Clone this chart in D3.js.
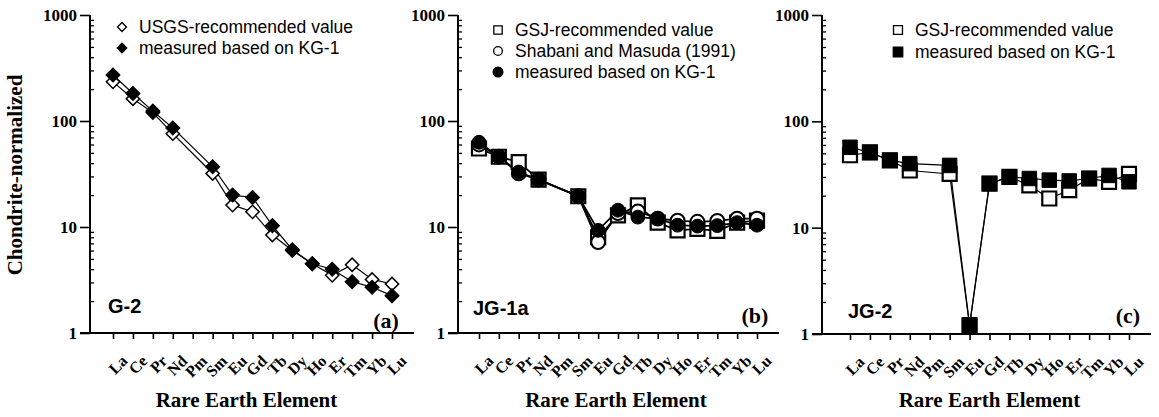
<!DOCTYPE html>
<html>
<head>
<meta charset="utf-8">
<script src="https://cdn.jsdelivr.net/npm/d3@7"></script>
<style>
  body { margin: 0; background: #fff; }
  svg { display: block; }
  .serif { font-family: "Liberation Serif", "Times New Roman", serif; font-weight: bold; }
  .sans { font-family: "Liberation Sans", Arial, sans-serif; }
</style>
</head>
<body>
<svg id="chart" width="1159" height="417"></svg>
<script>
//Rare earth elements on the x axis, Pm has no values
var elements = ["La", "Ce", "Pr", "Nd", "Pm", "Sm", "Eu", "Gd", "Tb", "Dy", "Ho", "Er", "Tm", "Yb", "Lu"];
var yTicks = [1, 10, 100, 1000];

//(a) G-2
var g2Usgs =     [234, 162, 120, 76, null, 32, 16.1, 13.9, 8.4, 6.0, 4.5, 3.5, 4.4, 3.2, 2.9];
var g2Measured = [272, 182, 124, 86, null, 37, 20, 19, 10.3, 6.1, 4.5, 4.0, 3.05, 2.7, 2.25];

//(b) JG-1a
var jg1aGsj =      [55, 46, 41, 28, null, 19.5, 8.0, 12.9, 16, 11, 9.3, 9.6, 9.2, 11, 11.5];
var jg1aShabani =  [60, 46, 32, 28, null, 19.5, 7.2, 13.5, 14, 12, 11.5, 11.2, 11.4, 12, 12];
var jg1aMeasured = [63, 46, 33, 28, null, 19.5, 9.3, 14.4, 12.4, 12, 10.4, 10.2, 10.3, 11, 10.4];

//(c) JG-2
var jg2Gsj =      [48, 51, 43, 34.5, null, 32, 1.2, 26, 30, 25, 18.8, 22.5, 29, 27, 32];
var jg2Measured = [57, 51, 43, 40, null, 38.5, 1.22, 26, 30, 29, 28, 27.5, 29, 31, 27];

var svg = d3.select("#chart");

//Marker styles
var markers = {
    openDiamond:   { type: d3.symbolSquare, size: 88, rotate: 45, fill: "#fff", stroke: 1.5 },
    filledDiamond: { type: d3.symbolSquare, size: 100, rotate: 45, fill: "#000", stroke: 1 },
    openSquare:    { type: d3.symbolSquare, size: 196, rotate: 0, fill: "#fff", stroke: 2.2 },
    filledSquare:  { type: d3.symbolSquare, size: 210, rotate: 0, fill: "#000", stroke: 1 },
    openCircle:    { type: d3.symbolCircle, size: 150, rotate: 0, fill: "#fff", stroke: 2 },
    filledCircle:  { type: d3.symbolCircle, size: 150, rotate: 0, fill: "#000", stroke: 1 }
};

var panels = [
    {
        yAxisX: 90, first: 113, last: 392, top: 15, bottom: 333,
        name: "G-2", nameX: 108, nameY: 313, tag: "(a)", tagX: 386, tagY: 328,
        legendX: 122, legendY: 27, legendGap: 21, lineWidth: 1.2, titleShift: -6,
        series: [
            { label: "USGS-recommended value", values: g2Usgs, marker: "openDiamond", legendSize: 40 },
            { label: "measured based on KG-1", values: g2Measured, marker: "filledDiamond", legendSize: 45 }
        ]
    },
    {
        yAxisX: 458, first: 479, last: 757, top: 15, bottom: 333,
        name: "JG-1a", nameX: 473, nameY: 315, tag: "(b)", tagX: 755, tagY: 323,
        legendX: 498, legendY: 30, legendGap: 21, lineWidth: 1.8, titleShift: -2,
        series: [
            { label: "GSJ-recommended value", values: jg1aGsj, marker: "openSquare", legendSize: 70 },
            { label: "Shabani and Masuda (1991)", values: jg1aShabani, marker: "openCircle", legendSize: 60 },
            { label: "measured based on KG-1", values: jg1aMeasured, marker: "filledCircle", legendSize: 75 }
        ]
    },
    {
        yAxisX: 822, first: 850, last: 1129, top: 15, bottom: 334,
        name: "JG-2", nameX: 848, nameY: 318, tag: "(c)", tagX: 1128, tagY: 323,
        legendX: 898, legendY: 30, legendGap: 22, lineWidth: 1.2, titleShift: 0,
        series: [
            { label: "GSJ-recommended value", values: jg2Gsj, marker: "openSquare", legendSize: 80 },
            { label: "measured based on KG-1", values: jg2Measured, marker: "filledSquare", legendSize: 90 }
        ]
    }
];

//Minor ticks 2..9 inside each decade
var minorTicks = [];
[1, 10, 100].forEach(function (d) {
    for (var k = 2; k < 10; k++) minorTicks.push(k * d);
});

function symbolPath(m, size) {
    return d3.symbol().type(m.type).size(size || m.size)();
}

panels.forEach(function (p) {
    var g = svg.append("g");

    var x = d3.scalePoint().domain(elements).range([p.first, p.last]);
    var y = d3.scaleLog().domain([1, 1000]).range([p.bottom, p.top]);

    //Y axis: major ticks outside, minor ticks inside
    var yAxis = g.append("g")
        .attr("transform", "translate(" + p.yAxisX + ",0)")
        .call(d3.axisLeft(y).tickValues(yTicks).tickSize(10).tickSizeOuter(0).tickPadding(3)
            .tickFormat(d3.format("d")));
    yAxis.select(".domain").remove();
    yAxis.selectAll("line").attr("stroke", "#000").attr("stroke-width", 1.6);
    yAxis.selectAll("text")
        .attr("class", "serif")
        .attr("font-size", 17)
        .attr("fill", "#000");

    g.append("g")
        .attr("transform", "translate(" + p.yAxisX + ",0)")
        .call(d3.axisRight(y).tickValues(minorTicks).tickSize(4).tickSizeOuter(0).tickFormat(""))
        .call(function (s) {
            s.select(".domain").remove();
            s.selectAll("line").attr("stroke", "#000").attr("stroke-width", 1.3);
        });

    g.append("line")
        .attr("x1", p.yAxisX).attr("x2", p.yAxisX)
        .attr("y1", y(1000)).attr("y2", y(1))
        .attr("stroke", "#000").attr("stroke-width", 2);

    //X axis
    var xAxis = g.append("g")
        .attr("transform", "translate(0," + p.bottom + ")")
        .call(d3.axisBottom(x).tickSize(6).tickSizeOuter(0));
    xAxis.select(".domain").remove();
    xAxis.selectAll("line").attr("stroke", "#000").attr("stroke-width", 1.6);
    xAxis.selectAll("text")
        .attr("class", "serif")
        .attr("font-size", 16)
        .attr("fill", "#000")
        .attr("x", 0).attr("y", 0).attr("dy", "0.35em")
        .attr("text-anchor", "end")
        .attr("transform", "translate(11,25) rotate(-45)");

    g.append("line")
        .attr("x1", p.yAxisX - 10).attr("x2", p.last + 22)
        .attr("y1", p.bottom).attr("y2", p.bottom)
        .attr("stroke", "#000").attr("stroke-width", 2);

    g.append("text")
        .attr("class", "serif")
        .attr("font-size", 21)
        .attr("text-anchor", "middle")
        .attr("x", (p.first + p.last) / 2 + p.titleShift)
        .attr("y", 407)
        .text("Rare Earth Element");

    //Lines first, skip missing Pm
    var line = d3.line()
        .x(function (d) { return x(d.el); })
        .y(function (d) { return y(d.v); });

    p.series.forEach(function (s) {
        var pts = elements.map(function (el, i) { return { el: el, v: s.values[i] }; })
            .filter(function (d) { return d.v != null; });
        g.append("path")
            .datum(pts)
            .attr("d", line)
            .attr("fill", "none")
            .attr("stroke", "#000")
            .attr("stroke-width", p.lineWidth);
    });

    //Markers, later series on top
    p.series.forEach(function (s) {
        var m = markers[s.marker];
        var pts = elements.map(function (el, i) { return { el: el, v: s.values[i] }; })
            .filter(function (d) { return d.v != null; });
        g.selectAll(null)
            .data(pts)
            .enter().append("path")
            .attr("d", symbolPath(m))
            .attr("transform", function (d) {
                return "translate(" + x(d.el) + "," + y(d.v) + ") rotate(" + m.rotate + ")";
            })
            .attr("fill", m.fill)
            .attr("stroke", "#000")
            .attr("stroke-width", m.stroke);
    });

    //Legend
    p.series.forEach(function (s, i) {
        var m = markers[s.marker];
        var ly = p.legendY + i * p.legendGap;
        g.append("path")
            .attr("d", symbolPath(m, s.legendSize))
            .attr("transform", "translate(" + p.legendX + "," + ly + ") rotate(" + m.rotate + ")")
            .attr("fill", m.fill)
            .attr("stroke", "#000")
            .attr("stroke-width", 1.3);
        g.append("text")
            .attr("class", "sans")
            .attr("font-size", 17.5)
            .attr("x", p.legendX + 17)
            .attr("y", ly)
            .attr("dy", "0.35em")
            .text(s.label);
    });

    //Sample name and panel tag
    g.append("text")
        .attr("class", "sans")
        .attr("font-weight", "bold")
        .attr("font-size", 20)
        .attr("x", p.nameX)
        .attr("y", p.nameY)
        .text(p.name);

    g.append("text")
        .attr("class", "serif")
        .attr("font-size", 22)
        .attr("text-anchor", "middle")
        .attr("x", p.tagX)
        .attr("y", p.tagY)
        .text(p.tag);
});

//Shared y axis title
svg.append("text")
    .attr("class", "serif")
    .attr("font-size", 21)
    .attr("text-anchor", "middle")
    .attr("transform", "translate(22,175) rotate(-90)")
    .text("Chondrite-normalized");
</script>
</body>
</html>
